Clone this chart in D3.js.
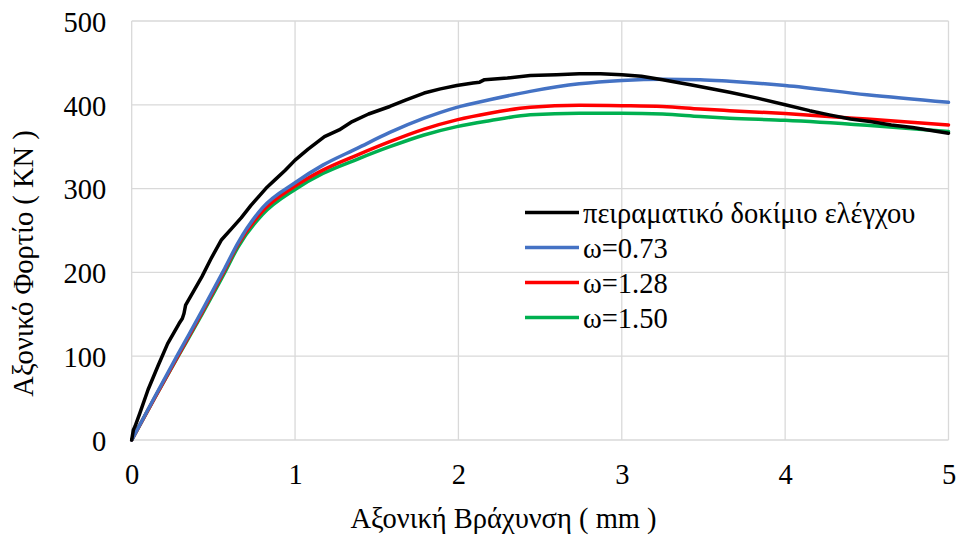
<!DOCTYPE html>
<html>
<head>
<meta charset="utf-8">
<script src="https://cdn.jsdelivr.net/npm/d3@7"></script>
<style>
  body { margin: 0; background: #fff; }
</style>
</head>
<body>
<div id="chart"></div>
<script>
// values
const xTicks = [0, 1, 2, 3, 4, 5];
const yTicks = [0, 100, 200, 300, 400, 500];

const seriesNames = ['πειραματικό δοκίμιο ελέγχου', 'ω=0.73', 'ω=1.28', 'ω=1.50'];
const seriesColors = ['#000000', '#4472C4', '#FF0000', '#00B050'];

const testX = [0, 0.01, 0.02, 0.05, 0.10, 0.16, 0.22, 0.29, 0.31, 0.32, 0.33, 0.38, 0.43, 0.49,
  0.55, 0.61, 0.67, 0.73, 0.78, 0.83, 0.88, 0.94, 1.0, 1.08, 1.18, 1.27, 1.35, 1.45, 1.58,
  1.68, 1.79, 1.89, 1.99, 2.09, 2.13, 2.16, 2.3, 2.44, 2.6, 2.74, 2.87, 3.0, 3.12, 3.25,
  3.42, 3.66, 3.83, 4.0, 4.15, 4.27, 4.4, 4.52, 4.65, 4.78, 5.0];
const testY = [0, 12, 16, 32, 60, 88, 115, 139, 145, 151, 161, 178, 195, 218,
  239, 252, 265, 280, 291, 302, 311, 322, 334, 347, 362, 370, 380, 389, 398,
  406, 414, 419, 423, 426, 427, 430, 432, 435, 436, 437, 437, 436, 434, 430,
  424, 415, 408, 400, 393, 388, 383, 380, 376, 373, 366];

const modelX = [0, 0.14, 0.285, 0.43, 0.57, 0.65, 0.8, 1.0, 1.17, 1.38, 1.58, 1.79, 1.99, 2.19,
  2.44, 2.74, 3.0, 3.25, 3.48, 3.66, 4.0, 4.5, 5.0];
const w073Y = [0, 51, 103, 154, 205, 235, 277, 307, 328, 348, 367, 384, 397, 406,
  416, 425, 429, 430.5, 430, 428, 423, 412, 403];
const w128Y = [0, 50, 101, 152, 203, 233, 273, 303, 322, 340, 356, 371, 382, 390,
  397, 399.5, 399, 398, 395, 393, 389.5, 383, 376];
const w150Y = [0, 50, 100, 150, 200, 230, 269, 299, 318, 335, 350, 364, 374, 381,
  388, 390, 390, 389, 386, 384, 381.5, 375.5, 368];

const series = [
  testX.map((x, i) => ({ x, y: testY[i] })),
  modelX.map((x, i) => ({ x, y: w073Y[i] })),
  modelX.map((x, i) => ({ x, y: w128Y[i] })),
  modelX.map((x, i) => ({ x, y: w150Y[i] }))
];

const FONT = '"Liberation Serif"';
const FONT_SIZE = 28.5;

const width = 959;
const height = 536;
const margin = { top: 21, right: 10.5, bottom: 96, left: 131.7 };
const plotW = width - margin.left - margin.right;
const plotH = height - margin.top - margin.bottom;

const svg = d3.select('#chart')
  .append('svg')
  .attr('width', width)
  .attr('height', height);

const xScale = d3.scaleLinear().domain([0, 5]).range([0, plotW]);
const yScale = d3.scaleLinear().domain([0, 500]).range([plotH, 0]);

const g = svg.append('g')
  .attr('transform', `translate(${margin.left}, ${margin.top})`);

// gridlines
g.append('g')
  .selectAll('line')
  .data(xTicks)
  .enter()
  .append('line')
  .attr('x1', d => xScale(d))
  .attr('x2', d => xScale(d))
  .attr('y1', 0)
  .attr('y2', plotH)
  .attr('stroke', '#d9d9d9')
  .attr('stroke-width', 1.3);

g.append('g')
  .selectAll('line')
  .data(yTicks)
  .enter()
  .append('line')
  .attr('x1', 0)
  .attr('x2', plotW)
  .attr('y1', d => yScale(d))
  .attr('y2', d => yScale(d))
  .attr('stroke', '#d9d9d9')
  .attr('stroke-width', 1.3);

// axes (labels only, Excel style)
const xAxis = g.append('g')
  .attr('transform', `translate(0, ${plotH})`)
  .call(d3.axisBottom(xScale).tickValues(xTicks).tickSize(0).tickPadding(24).tickFormat(d3.format('d')));
xAxis.select('.domain').remove();
xAxis.selectAll('text')
  .style('font-family', FONT)
  .style('font-size', FONT_SIZE + 'px')
  .attr('fill', '#000');

const yAxis = g.append('g')
  .call(d3.axisLeft(yScale).tickValues(yTicks).tickSize(0).tickPadding(25.5).tickFormat(d3.format('d')));
yAxis.select('.domain').remove();
yAxis.selectAll('text')
  .style('font-family', FONT)
  .style('font-size', FONT_SIZE + 'px')
  .attr('dy', '0.36em')
  .attr('fill', '#000');

// lines
const line = d3.line()
  .x(d => xScale(d.x))
  .y(d => yScale(d.y));

const smooth = d3.line()
  .x(d => xScale(d.x))
  .y(d => yScale(d.y))
  .curve(d3.curveMonotoneX);

[3, 2, 1, 0].forEach(i => {
  g.append('path')
    .datum(series[i])
    .attr('fill', 'none')
    .attr('stroke', seriesColors[i])
    .attr('stroke-width', 3.5)
    .attr('stroke-linejoin', 'round')
    .attr('stroke-linecap', 'round')
    .attr('d', i === 0 ? line : smooth);
});

// legend
const legend = svg.append('g').attr('transform', 'translate(525, 212.5)');
seriesNames.forEach((name, i) => {
  const row = legend.append('g').attr('transform', `translate(0, ${i * 35})`);
  row.append('line')
    .attr('x1', 0).attr('x2', 54)
    .attr('y1', 0).attr('y2', 0)
    .attr('stroke', seriesColors[i])
    .attr('stroke-width', 3.5);
  row.append('text')
    .attr('x', 58)
    .attr('y', 10.5)
    .style('font-family', FONT)
    .style('font-size', FONT_SIZE + 'px')
    .attr('fill', '#000')
    .text(name);
});

// axis titles
svg.append('text')
  .attr('x', 503.5)
  .attr('y', 528)
  .attr('text-anchor', 'middle')
  .style('font-family', FONT)
  .style('font-size', FONT_SIZE + 'px')
  .attr('fill', '#000')
  .text('Αξονική Βράχυνση ( mm )');

svg.append('text')
  .attr('transform', 'translate(33, 263.5) rotate(-90)')
  .attr('text-anchor', 'middle')
  .style('font-family', FONT)
  .style('font-size', FONT_SIZE + 'px')
  .attr('fill', '#000')
  .text('Αξονικό Φορτίο ( KN )');
</script>
</body>
</html>
